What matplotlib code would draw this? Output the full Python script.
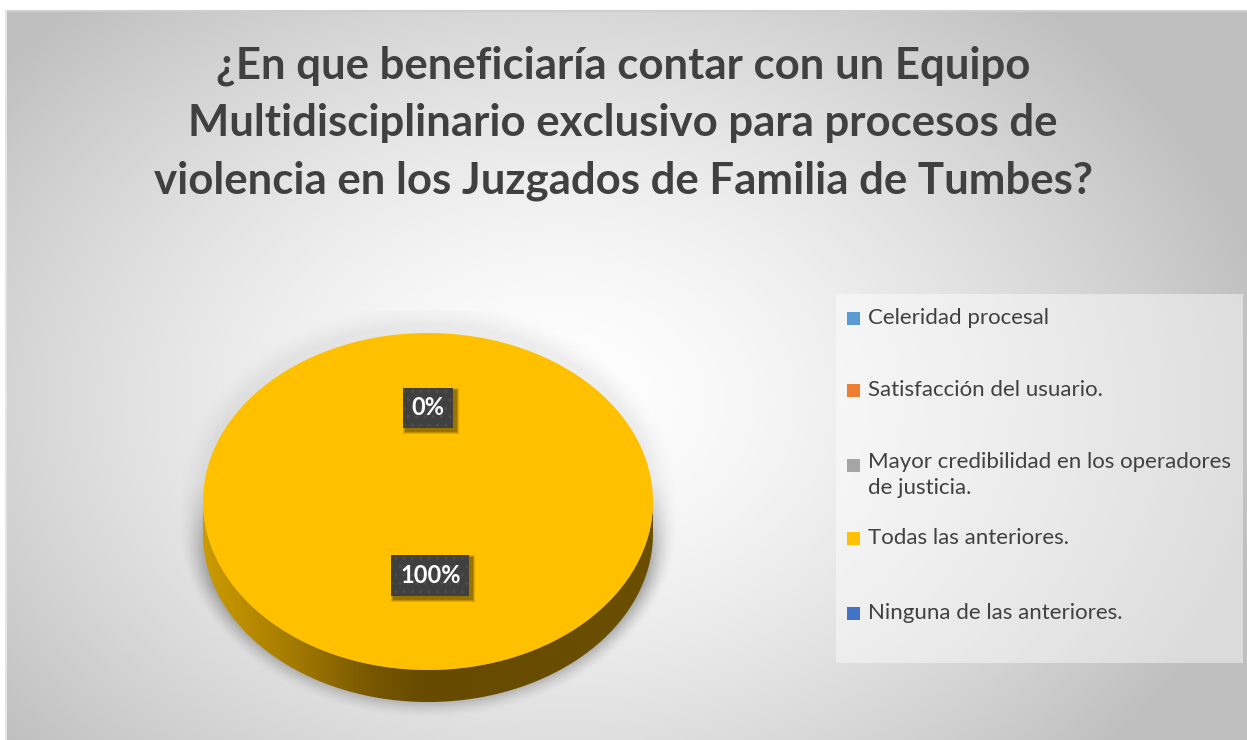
import numpy as np
import matplotlib
matplotlib.use("Agg")
import matplotlib.pyplot as plt
from matplotlib.patches import Polygon, Rectangle
from matplotlib.transforms import IdentityTransform
from matplotlib.colors import LinearSegmentedColormap

title = ("¿En que beneficiaría contar con un Equipo\n"
         "Multidisciplinario exclusivo para procesos de\n"
         "violencia en los Juzgados de Familia de Tumbes?")
categories = ["Celeridad procesal",
              "Satisfacción del usuario.",
              "Mayor credibilidad en los operadores\nde justicia.",
              "Todas las anteriores.",
              "Ninguna de las anteriores."]
values = [0, 0, 0, 100, 0]
colors = ["#5B9BD5", "#ED7D31", "#A5A5A5", "#FFC000", "#4472C4"]

W, H = 1247, 740
plt.rcParams['font.family'] = ['Lato', 'DejaVu Sans']
fig = plt.figure(figsize=(W / 100, H / 100), dpi=100)
fig.patch.set_facecolor("white")


def fx(x):
    return x / W


def fy(y):
    return 1 - y / H


# background: chart area with radial gradient
bg = fig.add_axes([0, 0, 1, 1], zorder=0)
bg.set_xlim(0, W)
bg.set_ylim(H, 0)
bg.axis("off")
yy, xx = np.mgrid[11:H, 6:W]
r = np.hypot((xx - 560) / 700.0, (yy - 400) / 520.0)
shade = 1 - 0.24 * np.clip(r, 0, 1.3) ** 1.5
shade = np.clip(shade, 0.75, 1)
bg.imshow(np.dstack([shade] * 3), extent=(6, W, H, 11), interpolation="bilinear")
bg.plot([6, W], [11, 11], color="#cfcfcf", lw=1.5)
bg.plot([6, 6], [11, H], color="#e6e6e6", lw=1.5)
# legend panel
bg.add_patch(Rectangle((836, 294), 407, 369, fc="white", alpha=0.45, ec="none"))

fig.text(fx(623), fy(123), title, ha="center", va="center", fontsize=31.5,
         fontweight="bold", color="#404040", linespacing=1.52)

# pie axes: unit circle maps to ellipse centre (428, 501.5), a=225, b=168.5 px
L, R, T, B = 168, 688, 310, 736
cx, cy, a, b = 428, 501.5, 225, 168.5
ax = fig.add_axes([fx(L), fy(B), (R - L) / W, (B - T) / H], zorder=1)
depth = 32 / b

# soft shadow beneath the pie (distances in pixels)
px = np.arange(L, R) + 0.5
py = np.arange(T, B) + 0.5
PX, PY = np.meshgrid(px, py)
ux = (PX - cx) / a
uy = (cy - PY - 8) / b
cc = np.clip(uy, -depth, 0)
rr = np.sqrt(ux ** 2 + (uy - cc) ** 2)
dist = (rr - 1) * np.hypot(a * ux, b * (uy - cc)) / np.maximum(rr, 1e-6)
fall = np.clip(1 - dist / 24.0, 0, 1) ** 1.5
weight = np.clip(0.25 + 1.4 * (-(uy)), 0.15, 1)
alpha = 0.75 * fall * weight
shadow = np.zeros(PX.shape + (4,))
shadow[..., :3] = 0.45
shadow[..., 3] = alpha
ax.imshow(shadow, extent=((L - cx) / a, (R - cx) / a, (cy - B) / b, (cy - T) / b),
          origin="upper", aspect="auto", zorder=0.2)

# side of the cylinder
t = np.linspace(np.pi, 2 * np.pi, 200)
top = np.column_stack([np.cos(t), np.sin(t)])
bot = np.column_stack([np.cos(t[::-1]), np.sin(t[::-1]) - depth])
side = Polygon(np.vstack([top, bot]), closed=True, fc="none", ec="none")
ax.add_patch(side)
side_cmap = LinearSegmentedColormap.from_list(
    "side", [(0, "#cc9b00"), (0.18, "#a87e00"), (0.38, "#765600"),
             (0.5, "#654a00"), (1, "#6b4f00")])
grad = np.linspace(0, 1, 256)[None, :]
im = ax.imshow(grad, cmap=side_cmap, extent=(-1, 1, -1 - depth, 0),
               aspect="auto", zorder=0.5)
im.set_clip_path(side)

wedges, texts, autotexts = ax.pie(values, colors=colors, startangle=90,
                                  counterclock=False, autopct="%1.0f%%",
                                  pctdistance=0.555, radius=1,
                                  wedgeprops=dict(linewidth=0))
for w in wedges:
    w.set_zorder(1)
seen = set()
shown = []
for i, at in enumerate(autotexts):
    if values[i] == max(values):
        at.set_position((0.01, -0.44))
    pos = tuple(np.round(at.get_position(), 3))
    if pos in seen:
        at.set_visible(False)
        continue
    seen.add(pos)
    shown.append(at)
    at.set_color("white")
    at.set_fontweight("bold")
    at.set_fontsize(17)
    at.set_zorder(3)
    at.set_bbox(dict(boxstyle="square,pad=0.38", fc="#404040", ec="#4d4d4d",
                     lw=0, hatch=".."))
ax.set_xlim((L - cx) / a, (R - cx) / a)
ax.set_ylim((cy - B) / b, (cy - T) / b)
ax.set_aspect("auto")
ax.axis("off")

# soft drop shadow behind the label boxes
fig.canvas.draw()
for at in shown:
    ext = at.get_bbox_patch().get_window_extent()
    for k, al in enumerate([0.12, 0.14, 0.2]):
        grow = 3 - k
        ax.add_patch(Rectangle((ext.x0 + 3 - grow, ext.y0 - 3 - grow),
                               ext.width + 2 * grow, ext.height + 2 * grow,
                               transform=IdentityTransform(), fc="black",
                               alpha=al, ec="none", zorder=2.9))

# legend
leg_y = [318, 390, 465, 538, 613]
for lab, col, y in zip(categories, colors, leg_y):
    bg.add_patch(Rectangle((847, y - 6.5), 13, 13, fc=col, ec="none"))
    if "\n" in lab:
        bg.text(868, y - 13, lab, fontsize=16, color="#404040", va="top",
                linespacing=1.4)
    else:
        bg.text(868, y, lab, fontsize=16, color="#404040", va="center")

fig.savefig("out.png", dpi=100, facecolor="white")
